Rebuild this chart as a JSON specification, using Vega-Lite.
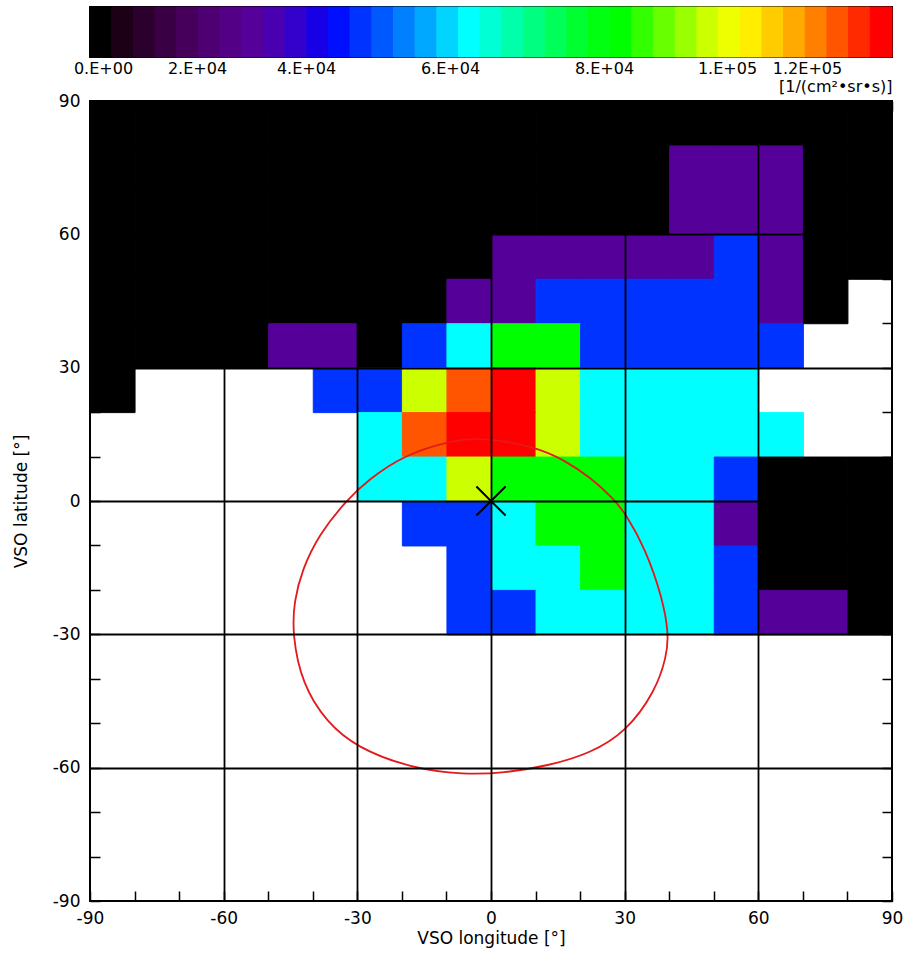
{
  "$schema": "https://vega.github.io/schema/vega-lite/v6.json",
  "padding": {"left": 11, "top": 5, "right": 8, "bottom": 5},
  "bounds": "flush",
  "spacing": 44,
  "background": "white",
  "config": {
    "font": "DejaVu Sans",
    "view": {"stroke": "black", "strokeWidth": 2},
    "axis": {"labelFont": "DejaVu Sans", "labelFontSize": 17, "labelColor": "black", "titleFont": "DejaVu Sans", "titleFontSize": 17, "titleFontWeight": "normal", "titleColor": "black", "labelOverlap": false, "labelBound": false, "labelFlush": false}
  },
  "datasets": {
    "cells": [
      {"lon": -90, "lat": 80, "f": 0}, {"lon": -80, "lat": 80, "f": 0}, {"lon": -70, "lat": 80, "f": 0}, {"lon": -60, "lat": 80, "f": 0}, {"lon": -50, "lat": 80, "f": 0}, {"lon": -40, "lat": 80, "f": 0}, {"lon": -30, "lat": 80, "f": 0}, {"lon": -20, "lat": 80, "f": 0}, {"lon": -10, "lat": 80, "f": 0}, {"lon": 0, "lat": 80, "f": 0}, {"lon": 10, "lat": 80, "f": 0}, {"lon": 20, "lat": 80, "f": 0}, {"lon": 30, "lat": 80, "f": 0}, {"lon": 40, "lat": 80, "f": 0}, {"lon": 50, "lat": 80, "f": 0}, {"lon": 60, "lat": 80, "f": 0}, {"lon": 70, "lat": 80, "f": 0}, {"lon": 80, "lat": 80, "f": 0},
      {"lon": -90, "lat": 70, "f": 0}, {"lon": -80, "lat": 70, "f": 0}, {"lon": -70, "lat": 70, "f": 0}, {"lon": -60, "lat": 70, "f": 0}, {"lon": -50, "lat": 70, "f": 0}, {"lon": -40, "lat": 70, "f": 0}, {"lon": -30, "lat": 70, "f": 0}, {"lon": -20, "lat": 70, "f": 0}, {"lon": -10, "lat": 70, "f": 0}, {"lon": 0, "lat": 70, "f": 0}, {"lon": 10, "lat": 70, "f": 0}, {"lon": 20, "lat": 70, "f": 0}, {"lon": 30, "lat": 70, "f": 0}, {"lon": 40, "lat": 70, "f": 30200}, {"lon": 50, "lat": 70, "f": 30200}, {"lon": 60, "lat": 70, "f": 30200}, {"lon": 70, "lat": 70, "f": 0}, {"lon": 80, "lat": 70, "f": 0},
      {"lon": -90, "lat": 60, "f": 0}, {"lon": -80, "lat": 60, "f": 0}, {"lon": -70, "lat": 60, "f": 0}, {"lon": -60, "lat": 60, "f": 0}, {"lon": -50, "lat": 60, "f": 0}, {"lon": -40, "lat": 60, "f": 0}, {"lon": -30, "lat": 60, "f": 0}, {"lon": -20, "lat": 60, "f": 0}, {"lon": -10, "lat": 60, "f": 0}, {"lon": 0, "lat": 60, "f": 0}, {"lon": 10, "lat": 60, "f": 0}, {"lon": 20, "lat": 60, "f": 0}, {"lon": 30, "lat": 60, "f": 0}, {"lon": 40, "lat": 60, "f": 30200}, {"lon": 50, "lat": 60, "f": 30200}, {"lon": 60, "lat": 60, "f": 30200}, {"lon": 70, "lat": 60, "f": 0}, {"lon": 80, "lat": 60, "f": 0},
      {"lon": -90, "lat": 50, "f": 0}, {"lon": -80, "lat": 50, "f": 0}, {"lon": -70, "lat": 50, "f": 0}, {"lon": -60, "lat": 50, "f": 0}, {"lon": -50, "lat": 50, "f": 0}, {"lon": -40, "lat": 50, "f": 0}, {"lon": -30, "lat": 50, "f": 0}, {"lon": -20, "lat": 50, "f": 0}, {"lon": -10, "lat": 50, "f": 0}, {"lon": 0, "lat": 50, "f": 30200}, {"lon": 10, "lat": 50, "f": 30200}, {"lon": 20, "lat": 50, "f": 30200}, {"lon": 30, "lat": 50, "f": 30200}, {"lon": 40, "lat": 50, "f": 30200}, {"lon": 50, "lat": 50, "f": 47600}, {"lon": 60, "lat": 50, "f": 30200}, {"lon": 70, "lat": 50, "f": 0}, {"lon": 80, "lat": 50, "f": 0},
      {"lon": -90, "lat": 40, "f": 0}, {"lon": -80, "lat": 40, "f": 0}, {"lon": -70, "lat": 40, "f": 0}, {"lon": -60, "lat": 40, "f": 0}, {"lon": -50, "lat": 40, "f": 0}, {"lon": -40, "lat": 40, "f": 0}, {"lon": -30, "lat": 40, "f": 0}, {"lon": -20, "lat": 40, "f": 0}, {"lon": -10, "lat": 40, "f": 30200}, {"lon": 0, "lat": 40, "f": 30200}, {"lon": 10, "lat": 40, "f": 47600}, {"lon": 20, "lat": 40, "f": 47600}, {"lon": 30, "lat": 40, "f": 47600}, {"lon": 40, "lat": 40, "f": 47600}, {"lon": 50, "lat": 40, "f": 47600}, {"lon": 60, "lat": 40, "f": 30200}, {"lon": 70, "lat": 40, "f": 0},
      {"lon": -90, "lat": 30, "f": 0}, {"lon": -80, "lat": 30, "f": 0}, {"lon": -70, "lat": 30, "f": 0}, {"lon": -60, "lat": 30, "f": 0}, {"lon": -50, "lat": 30, "f": 30200}, {"lon": -40, "lat": 30, "f": 30200}, {"lon": -30, "lat": 30, "f": 0}, {"lon": -20, "lat": 30, "f": 47600}, {"lon": -10, "lat": 30, "f": 62500}, {"lon": 0, "lat": 30, "f": 82800}, {"lon": 10, "lat": 30, "f": 82800}, {"lon": 20, "lat": 30, "f": 47600}, {"lon": 30, "lat": 30, "f": 47600}, {"lon": 40, "lat": 30, "f": 47600}, {"lon": 50, "lat": 30, "f": 47600}, {"lon": 60, "lat": 30, "f": 47600},
      {"lon": -90, "lat": 20, "f": 0}, {"lon": -40, "lat": 20, "f": 47600}, {"lon": -30, "lat": 20, "f": 47600}, {"lon": -20, "lat": 20, "f": 96900}, {"lon": -10, "lat": 20, "f": 127700}, {"lon": 0, "lat": 20, "f": 138000}, {"lon": 10, "lat": 20, "f": 96900}, {"lon": 20, "lat": 20, "f": 62500}, {"lon": 30, "lat": 20, "f": 62500}, {"lon": 40, "lat": 20, "f": 62500}, {"lon": 50, "lat": 20, "f": 62500},
      {"lon": -30, "lat": 10, "f": 62500}, {"lon": -20, "lat": 10, "f": 127700}, {"lon": -10, "lat": 10, "f": 138000}, {"lon": 0, "lat": 10, "f": 138000}, {"lon": 10, "lat": 10, "f": 96900}, {"lon": 20, "lat": 10, "f": 62500}, {"lon": 30, "lat": 10, "f": 62500}, {"lon": 40, "lat": 10, "f": 62500}, {"lon": 50, "lat": 10, "f": 62500}, {"lon": 60, "lat": 10, "f": 62500},
      {"lon": -30, "lat": 0, "f": 62500}, {"lon": -20, "lat": 0, "f": 62500}, {"lon": -10, "lat": 0, "f": 96900}, {"lon": 0, "lat": 0, "f": 82800}, {"lon": 10, "lat": 0, "f": 82800}, {"lon": 20, "lat": 0, "f": 82800}, {"lon": 30, "lat": 0, "f": 62500}, {"lon": 40, "lat": 0, "f": 62500}, {"lon": 50, "lat": 0, "f": 47600}, {"lon": 60, "lat": 0, "f": 0}, {"lon": 70, "lat": 0, "f": 0}, {"lon": 80, "lat": 0, "f": 0},
      {"lon": -20, "lat": -10, "f": 47600}, {"lon": -10, "lat": -10, "f": 47600}, {"lon": 0, "lat": -10, "f": 62500}, {"lon": 10, "lat": -10, "f": 82800}, {"lon": 20, "lat": -10, "f": 82800}, {"lon": 30, "lat": -10, "f": 62500}, {"lon": 40, "lat": -10, "f": 62500}, {"lon": 50, "lat": -10, "f": 30200}, {"lon": 60, "lat": -10, "f": 0}, {"lon": 70, "lat": -10, "f": 0}, {"lon": 80, "lat": -10, "f": 0},
      {"lon": -10, "lat": -20, "f": 47600}, {"lon": 0, "lat": -20, "f": 62500}, {"lon": 10, "lat": -20, "f": 62500}, {"lon": 20, "lat": -20, "f": 82800}, {"lon": 30, "lat": -20, "f": 62500}, {"lon": 40, "lat": -20, "f": 62500}, {"lon": 50, "lat": -20, "f": 47600}, {"lon": 60, "lat": -20, "f": 0}, {"lon": 70, "lat": -20, "f": 0}, {"lon": 80, "lat": -20, "f": 0},
      {"lon": -10, "lat": -30, "f": 47600}, {"lon": 0, "lat": -30, "f": 47600}, {"lon": 10, "lat": -30, "f": 62500}, {"lon": 20, "lat": -30, "f": 62500}, {"lon": 30, "lat": -30, "f": 62500}, {"lon": 40, "lat": -30, "f": 62500}, {"lon": 50, "lat": -30, "f": 47600}, {"lon": 60, "lat": -30, "f": 30200}, {"lon": 70, "lat": -30, "f": 30200}, {"lon": 80, "lat": -30, "f": 0}
    ],
    "bands": [
      {"lo": -2766, "hi": 1850}, {"lo": 1850, "hi": 6460}, {"lo": 6460, "hi": 11070}, {"lo": 11070, "hi": 15680}, {"lo": 15680, "hi": 20250}, {"lo": 20250, "hi": 24230}, {"lo": 24230, "hi": 28210}, {"lo": 28210, "hi": 32180}, {"lo": 32180, "hi": 36160}, {"lo": 36160, "hi": 40110}, {"lo": 40110, "hi": 43120}, {"lo": 43120, "hi": 46130}, {"lo": 46130, "hi": 49140}, {"lo": 49140, "hi": 52150}, {"lo": 52150, "hi": 55160}, {"lo": 55160, "hi": 58170}, {"lo": 58170, "hi": 61100}, {"lo": 61100, "hi": 63920}, {"lo": 63920, "hi": 66730}, {"lo": 66730, "hi": 69550}, {"lo": 69550, "hi": 72360}, {"lo": 72360, "hi": 75180}, {"lo": 75180, "hi": 77990}, {"lo": 77990, "hi": 81010}, {"lo": 81010, "hi": 84540}, {"lo": 84540, "hi": 88060}, {"lo": 88060, "hi": 91580}, {"lo": 91580, "hi": 95110}, {"lo": 95110, "hi": 98630}, {"lo": 98630, "hi": 103320}, {"lo": 103320, "hi": 108740}, {"lo": 108740, "hi": 114160}, {"lo": 114160, "hi": 119570}, {"lo": 119570, "hi": 124990}, {"lo": 124990, "hi": 130410}, {"lo": 130410, "hi": 135830}, {"lo": 135830, "hi": 141250}
    ],
    "loop": [
      {"i": 0, "lon": -2, "lat": 14.4}, {"i": 1, "lon": 10.3, "lat": 12.1}, {"i": 2, "lon": 16.4, "lat": 9.2}, {"i": 3, "lon": 22.4, "lat": 5.3}, {"i": 4, "lon": 27.6, "lat": 0.4}, {"i": 5, "lon": 30.3, "lat": -3}, {"i": 6, "lon": 34.6, "lat": -10.6}, {"i": 7, "lon": 38.5, "lat": -21.8}, {"i": 8, "lon": 39.9, "lat": -30}, {"i": 9, "lon": 39.4, "lat": -35}, {"i": 10, "lon": 36.9, "lat": -42.8}, {"i": 11, "lon": 30.3, "lat": -52}, {"i": 12, "lon": 22.2, "lat": -56.8}, {"i": 13, "lon": 12.8, "lat": -59.6}, {"i": 14, "lon": 2.9, "lat": -61.2}, {"i": 15, "lon": -6, "lat": -61.6}, {"i": 16, "lon": -18, "lat": -60.1}, {"i": 17, "lon": -30.1, "lat": -55.5}, {"i": 18, "lon": -36.9, "lat": -49.8}, {"i": 19, "lon": -42.4, "lat": -41.2}, {"i": 20, "lon": -44.6, "lat": -30}, {"i": 21, "lon": -44.2, "lat": -22.5}, {"i": 22, "lon": -42.4, "lat": -15.5}, {"i": 23, "lon": -38.6, "lat": -7.5}, {"i": 24, "lon": -32.4, "lat": 0.2}, {"i": 25, "lon": -27.5, "lat": 4.8}, {"i": 26, "lon": -19.7, "lat": 10.2}, {"i": 27, "lon": -9.9, "lat": 13.4}
    ]
  },
  "vconcat": [
    {
      "width": 802,
      "height": 50,
      "data": {"name": "bands"},
      "mark": {"type": "rect", "strokeWidth": 1},
      "encoding": {
        "x": {"field": "lo", "type": "quantitative",
          "scale": {"domain": [-2766, 0, 20000, 40000, 60000, 80000, 100000, 120000, 141250], "range": [0, 13, 107, 216, 360, 514, 637, 717, 802], "nice": false, "zero": false},
          "axis": {"orient": "bottom", "domain": false, "grid": false,
            "values": [0, 5766, 14298, 20000, 22440, 29798, 37156, 40000, 43417, 48986, 54556, 60000, 60117, 65325, 70532, 75740, 80000, 81187, 87707, 94228, 100000, 101150, 111175, 120000, 121200, 131225],
            "labelExpr": "datum.value === 0 ? '0.E+00' : datum.value === 20000 ? '2.E+04' : datum.value === 40000 ? '4.E+04' : datum.value === 60000 ? '6.E+04' : datum.value === 80000 ? '8.E+04' : datum.value === 100000 ? '1.E+05' : datum.value === 120000 ? '1.2E+05' : ''",
            "tickSize": -5, "tickColor": "black", "tickWidth": 1.5,
            "tickOpacity": {"condition": {"test": "datum.value % 20000 === 0", "value": 0}, "value": 1},
            "labelPadding": 8, "labelFontSize": 16,
            "title": "[1/(cm²•sr•s)]", "titleFontSize": 16, "titleAnchor": "end", "titleAlign": "right", "titlePadding": 2}
        },
        "x2": {"field": "hi"},
        "color": {"field": "lo", "type": "quantitative",
          "scale": {"type": "threshold",
            "domain": [1850, 6460, 11070, 15680, 20250, 24230, 28210, 32180, 36160, 40110, 43120, 46130, 49140, 52150, 55160, 58170, 61100, 63920, 66730, 69550, 72360, 75180, 77990, 81010, 84540, 88060, 91580, 95110, 98630, 103320, 108740, 114160, 119570, 124990, 130410, 135830],
            "range": ["#000000", "#1c0016", "#2c002c", "#3a0044", "#46005c", "#4e0072", "#540086", "#550099", "#4a00b0", "#3400cc", "#1800e6", "#0010ff", "#0033ff", "#0058ff", "#0080ff", "#00a8ff", "#00d4ff", "#00ffff", "#00ffd4", "#00ffaa", "#00ff80", "#00ff58", "#00ff30", "#00ff10", "#00ff00", "#34ff00", "#68ff00", "#9aff00", "#ccff00", "#eeff00", "#ffee00", "#ffcc00", "#ffaa00", "#ff8000", "#ff5500", "#ff2a00", "#ff0000"]},
          "legend": null},
        "stroke": {"field": "lo", "type": "quantitative",
          "scale": {"type": "threshold",
            "domain": [1850, 6460, 11070, 15680, 20250, 24230, 28210, 32180, 36160, 40110, 43120, 46130, 49140, 52150, 55160, 58170, 61100, 63920, 66730, 69550, 72360, 75180, 77990, 81010, 84540, 88060, 91580, 95110, 98630, 103320, 108740, 114160, 119570, 124990, 130410, 135830],
            "range": ["#000000", "#1c0016", "#2c002c", "#3a0044", "#46005c", "#4e0072", "#540086", "#550099", "#4a00b0", "#3400cc", "#1800e6", "#0010ff", "#0033ff", "#0058ff", "#0080ff", "#00a8ff", "#00d4ff", "#00ffff", "#00ffd4", "#00ffaa", "#00ff80", "#00ff58", "#00ff30", "#00ff10", "#00ff00", "#34ff00", "#68ff00", "#9aff00", "#ccff00", "#eeff00", "#ffee00", "#ffcc00", "#ffaa00", "#ff8000", "#ff5500", "#ff2a00", "#ff0000"]},
          "legend": null}
      }
    },
    {
      "width": 802,
      "height": 800,
      "layer": [
        {
          "data": {"name": "cells"},
          "mark": {"type": "rect", "strokeWidth": 1},
          "encoding": {
            "x": {"field": "lon", "type": "quantitative", "bin": {"binned": true, "step": 10},
              "scale": {"domain": [-90, 90], "nice": false, "zero": false},
              "axis": {"orient": "bottom", "values": [-90, -80, -70, -60, -50, -40, -30, -20, -10, 0, 10, 20, 30, 40, 50, 60, 70, 80, 90],
                "tickSize": -10, "tickColor": "black", "tickWidth": 1.5, "domain": false,
                "grid": true, "gridColor": "black", "gridWidth": 1.8,
                "gridOpacity": {"condition": {"test": "abs(datum.value) < 90 && datum.value % 30 === 0", "value": 1}, "value": 0},
                "labelExpr": "datum.value % 30 === 0 ? '' + datum.value : ''",
                "labelPadding": 19, "zindex": 1,
                "title": "VSO longitude [°]", "titlePadding": 4}
            },
            "y": {"field": "lat", "type": "quantitative", "bin": {"binned": true, "step": 10},
              "scale": {"domain": [-90, 90], "nice": false, "zero": false},
              "axis": {"orient": "left", "values": [-90, -80, -70, -60, -50, -40, -30, -20, -10, 0, 10, 20, 30, 40, 50, 60, 70, 80, 90],
                "tickSize": -10, "tickColor": "black", "tickWidth": 1.5, "domain": false,
                "grid": true, "gridColor": "black", "gridWidth": 1.8,
                "gridOpacity": {"condition": {"test": "abs(datum.value) < 90 && datum.value % 30 === 0", "value": 1}, "value": 0},
                "labelExpr": "datum.value % 30 === 0 ? '' + datum.value : ''",
                "labelPadding": 20, "zindex": 1,
                "title": "VSO latitude [°]", "titlePadding": 22}
            },
            "color": {"field": "f", "type": "quantitative",
              "scale": {"type": "threshold",
                "domain": [1850, 6460, 11070, 15680, 20250, 24230, 28210, 32180, 36160, 40110, 43120, 46130, 49140, 52150, 55160, 58170, 61100, 63920, 66730, 69550, 72360, 75180, 77990, 81010, 84540, 88060, 91580, 95110, 98630, 103320, 108740, 114160, 119570, 124990, 130410, 135830],
                "range": ["#000000", "#1c0016", "#2c002c", "#3a0044", "#46005c", "#4e0072", "#540086", "#550099", "#4a00b0", "#3400cc", "#1800e6", "#0010ff", "#0033ff", "#0058ff", "#0080ff", "#00a8ff", "#00d4ff", "#00ffff", "#00ffd4", "#00ffaa", "#00ff80", "#00ff58", "#00ff30", "#00ff10", "#00ff00", "#34ff00", "#68ff00", "#9aff00", "#ccff00", "#eeff00", "#ffee00", "#ffcc00", "#ffaa00", "#ff8000", "#ff5500", "#ff2a00", "#ff0000"]},
              "legend": null},
            "stroke": {"field": "f", "type": "quantitative",
              "scale": {"type": "threshold",
                "domain": [1850, 6460, 11070, 15680, 20250, 24230, 28210, 32180, 36160, 40110, 43120, 46130, 49140, 52150, 55160, 58170, 61100, 63920, 66730, 69550, 72360, 75180, 77990, 81010, 84540, 88060, 91580, 95110, 98630, 103320, 108740, 114160, 119570, 124990, 130410, 135830],
                "range": ["#000000", "#1c0016", "#2c002c", "#3a0044", "#46005c", "#4e0072", "#540086", "#550099", "#4a00b0", "#3400cc", "#1800e6", "#0010ff", "#0033ff", "#0058ff", "#0080ff", "#00a8ff", "#00d4ff", "#00ffff", "#00ffd4", "#00ffaa", "#00ff80", "#00ff58", "#00ff30", "#00ff10", "#00ff00", "#34ff00", "#68ff00", "#9aff00", "#ccff00", "#eeff00", "#ffee00", "#ffcc00", "#ffaa00", "#ff8000", "#ff5500", "#ff2a00", "#ff0000"]},
              "legend": null}
          }
        },
        {
          "data": {"name": "loop"},
          "mark": {"type": "line", "color": "#e3191c", "strokeWidth": 1.8, "interpolate": "basis-closed"},
          "encoding": {
            "x": {"field": "lon", "type": "quantitative",
              "axis": {"orient": "top", "values": [-90, -80, -70, -60, -50, -40, -30, -20, -10, 0, 10, 20, 30, 40, 50, 60, 70, 80, 90], "tickSize": -10, "tickColor": "black", "tickWidth": 1.5, "labels": false, "domain": false, "grid": false, "title": null}},
            "y": {"field": "lat", "type": "quantitative",
              "axis": {"orient": "right", "values": [-90, -80, -70, -60, -50, -40, -30, -20, -10, 0, 10, 20, 30, 40, 50, 60, 70, 80, 90], "tickSize": -10, "tickColor": "black", "tickWidth": 1.5, "labels": false, "domain": false, "grid": false, "title": null}},
            "order": {"field": "i", "type": "quantitative"}
          }
        },
        {
          "data": {"values": [{"lon": 0, "lat": 0}]},
          "mark": {"type": "point", "shape": "M-1,-1L1,1M-1,1L1,-1", "filled": false, "stroke": "black", "strokeWidth": 2, "size": 850, "opacity": 1},
          "encoding": {
            "x": {"field": "lon", "type": "quantitative", "axis": null},
            "y": {"field": "lat", "type": "quantitative", "axis": null}
          }
        }
      ],
      "resolve": {"axis": {"x": "independent", "y": "independent"}}
    }
  ]
}
